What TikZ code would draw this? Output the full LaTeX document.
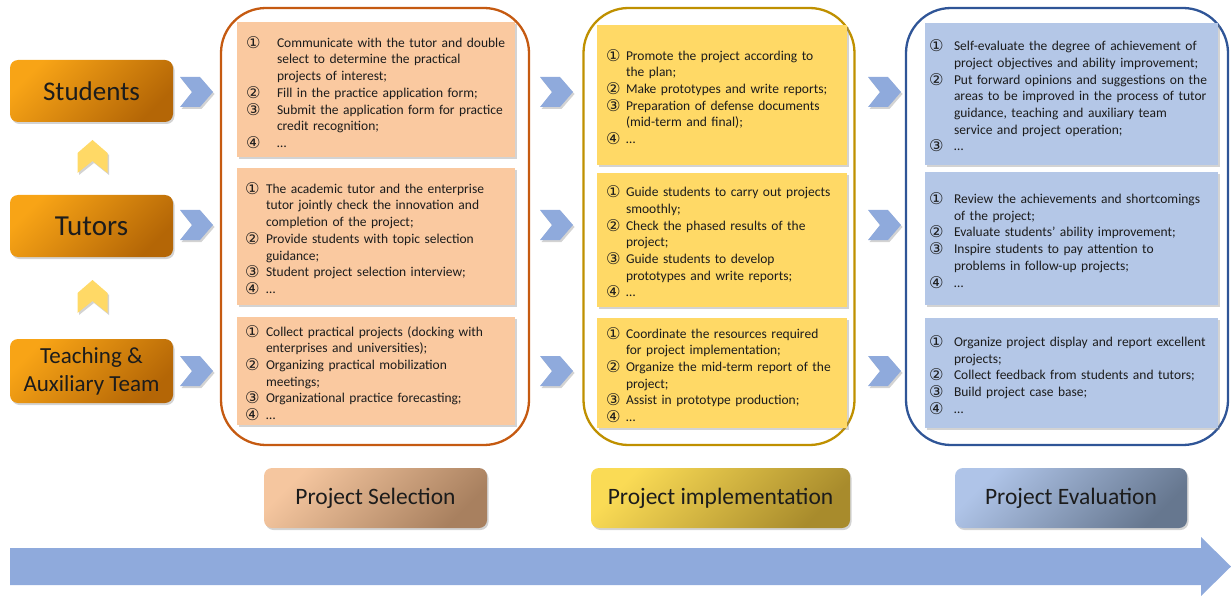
\documentclass[tikz,border=0pt]{standalone}
\usepackage{fontspec}
\setmainfont{Carlito}
\newfontfamily\circfont{DejaVu Sans}[Scale=1.2]
\usetikzlibrary{shadows,calc}
\definecolor{roleA}{HTML}{F8A416}
\definecolor{roleB}{HTML}{B46606}
\definecolor{selA}{HTML}{F5C69F}
\definecolor{selB}{HTML}{A8805F}
\definecolor{impA}{HTML}{FADB55}
\definecolor{impB}{HTML}{A88B2C}
\definecolor{evaA}{HTML}{AFC4E8}
\definecolor{evaB}{HTML}{66778F}
\definecolor{selFill}{HTML}{FAC9A0}
\definecolor{impFill}{HTML}{FFD966}
\definecolor{evaFill}{HTML}{B4C7E7}
\definecolor{selLine}{HTML}{C55A11}
\definecolor{impLine}{HTML}{BF9000}
\definecolor{evaLine}{HTML}{2F5597}
\definecolor{chevBlue}{HTML}{8FAADC}
\definecolor{chevYel}{HTML}{FFD966}
\definecolor{txt}{HTML}{1C1C1C}
\newlength\cind
\newcommand\nl{\break}
\newcommand\citem[2]{\par\noindent\hangindent=\cind\hangafter=1\strut\makebox[\cind][l]{\raisebox{-1pt}{\circfont #1}}#2\strut\par}
\begin{document}
\begin{tikzpicture}[x=1pt,y=-1pt,
  shade/.style={drop shadow={shadow xshift=1.5pt,shadow yshift=-2pt,opacity=0.35}},
  role/.style={rounded corners=8pt, minimum width=163pt, top color=roleA, bottom color=roleB, shading angle=45, shade, text=txt, align=center, inner sep=0pt},
  stage/.style={rounded corners=8pt, minimum height=60pt, shade, text=txt, font=\fontsize{23.5}{28}\selectfont, inner sep=0pt},
  cont/.style={line width=2.3pt, rounded corners=45pt, inner sep=0pt},
  ibox/.style={shade, inner sep=0pt},
  btext/.style={anchor=west, text width=300pt, align=left, inner sep=0pt, text=txt,
    font=\fontsize{13.5}{16.7}\selectfont\setlength\parskip{0pt}},
  rchev/.pic={\fill[chevBlue, shade] (-16.5,-15) -- (3.5,-15) -- (16.5,0) -- (3.5,15) -- (-16.5,15) -- (-4.5,0) -- cycle;},
  uchev/.pic={\fill[chevYel, shade] (0,-16.5) -- (15,-3.5) -- (15,16.5) -- (0,4.5) -- (-15,16.5) -- (-15,-3.5) -- cycle;}
]
\useasboundingbox (0,0) rectangle (1231,596);

% role boxes
\node[role, minimum height=62pt, font=\fontsize{27}{32}\selectfont] (stu) at (91.5,91) {Students};
\node[role, minimum height=62pt, font=\fontsize{29}{34}\selectfont] (tut) at (91.5,226) {Tutors};
\node[role, minimum height=64pt, font=\fontsize{23}{28}\selectfont] (team) at (91.5,371) {Teaching \&\\Auxiliary Team};
\pic at (92.5,156.5) {uchev};
\pic at (92.5,296.5) {uchev};

% containers
\node[cont, draw=selLine, minimum width=308pt, minimum height=437pt] (selc) at (375,226.5) {};
\node[cont, draw=impLine, minimum width=271pt, minimum height=437pt] (impc) at (719,226.5) {};
\node[cont, draw=evaLine, minimum width=322pt, minimum height=437pt] (evac) at (1067,226.5) {};

% chevrons
\foreach \y in {92,225,371}{
  \pic at (196.5,\y) {rchev};
  \pic at (556.5,\y) {rchev};
  \pic at (884.5,\y) {rchev};
}

% inner boxes: selection
\node[ibox, fill=selFill, minimum width=278pt, minimum height=135pt] (s1) at (376,89.5) {};
\node[ibox, fill=selFill, minimum width=278pt, minimum height=137pt] (s2) at (376,236.5) {};
\node[ibox, fill=selFill, minimum width=278pt, minimum height=108pt] (s3) at (376,371) {};
% implementation
\node[ibox, fill=impFill, minimum width=250pt, minimum height=140pt] (i1) at (722,95) {};
\node[ibox, fill=impFill, minimum width=250pt, minimum height=134pt] (i2) at (722,240) {};
\node[ibox, fill=impFill, minimum width=250pt, minimum height=110pt] (i3) at (722,373) {};
% evaluation
\node[ibox, fill=evaFill, minimum width=293pt, minimum height=142pt] (e1) at (1071.5,94) {};
\node[ibox, fill=evaFill, minimum width=293pt, minimum height=133pt] (e2) at (1071.5,238.5) {};
\node[ibox, fill=evaFill, minimum width=293pt, minimum height=110pt] (e3) at (1071.5,373) {};

% texts
\node[btext] (s1t) at ($(s1.west)+(9,2)$) {\setlength\cind{31pt}%
\citem{①}{Communicate with the tutor and double\nl select to determine the practical\nl projects of interest;}%
\citem{②}{Fill in the practice application form;}%
\citem{③}{Submit the application form for practice\nl credit recognition;}%
\citem{④}{…}};
\node[btext] (s2t) at ($(s2.west)+(8,1)$) {\setlength\cind{21pt}%
\citem{①}{The academic tutor and the enterprise\nl tutor jointly check the innovation and\nl completion of the project;}%
\citem{②}{Provide students with topic selection\nl guidance;}%
\citem{③}{Student project selection interview;}%
\citem{④}{…}};
\node[btext] (s3t) at ($(s3.west)+(8,1)$) {\setlength\cind{21pt}%
\citem{①}{Collect practical projects (docking with\nl enterprises and universities);}%
\citem{②}{Organizing practical mobilization\nl meetings;}%
\citem{③}{Organizational practice forecasting;}%
\citem{④}{…}};

\node[btext] (i1t) at ($(i1.west)+(9,1)$) {\setlength\cind{20pt}%
\citem{①}{Promote the project according to\nl the plan;}%
\citem{②}{Make prototypes and write reports;}%
\citem{③}{Preparation of defense documents\nl (mid-term and final);}%
\citem{④}{…}};
\node[btext] (i2t) at ($(i2.west)+(9,1)$) {\setlength\cind{20pt}%
\citem{①}{Guide students to carry out projects\nl smoothly;}%
\citem{②}{Check the phased results of the\nl project;}%
\citem{③}{Guide students to develop\nl prototypes and write reports;}%
\citem{④}{…}};
\node[btext] (i3t) at ($(i3.west)+(9,1)$) {\setlength\cind{20pt}%
\citem{①}{Coordinate the resources required\nl for project implementation;}%
\citem{②}{Organize the mid-term report of the\nl project;}%
\citem{③}{Assist in prototype production;}%
\citem{④}{…}};

\node[btext] (e1t) at ($(e1.west)+(4,1)$) {\setlength\cind{25pt}%
\citem{①}{Self-evaluate the degree of achievement of\nl project objectives and ability improvement;}%
\citem{②}{Put forward opinions and suggestions on the\nl areas to be improved in the process of tutor\nl guidance, teaching and auxiliary team\nl service and project operation;}%
\citem{③}{…}};
\node[btext] (e2t) at ($(e2.west)+(4,1)$) {\setlength\cind{25pt}%
\citem{①}{Review the achievements and shortcomings\nl of the project;}%
\citem{②}{Evaluate students' ability improvement;}%
\citem{③}{Inspire students to pay attention to\nl problems in follow-up projects;}%
\citem{④}{…}};
\node[btext] (e3t) at ($(e3.west)+(4,1)$) {\setlength\cind{25pt}%
\citem{①}{Organize project display and report excellent\nl projects;}%
\citem{②}{Collect feedback from students and tutors;}%
\citem{③}{Build project case base;}%
\citem{④}{…}};

% stage labels
\node[stage, minimum width=223pt, top color=selA, bottom color=selB, shading angle=45] (sel) at (375.5,498) {Project Selection};
\node[stage, minimum width=259pt, top color=impA, bottom color=impB, shading angle=45] (imp) at (720.5,498) {Project implementation};
\node[stage, minimum width=232pt, top color=evaA, bottom color=evaB, shading angle=45] (eva) at (1071,498) {Project Evaluation};

% time arrow
\fill[chevBlue] (10,548) -- (1201,548) -- (1201,537) -- (1231,566.5) -- (1201,596) -- (1201,585) -- (10,585) -- cycle;
\end{tikzpicture}
\end{document}
